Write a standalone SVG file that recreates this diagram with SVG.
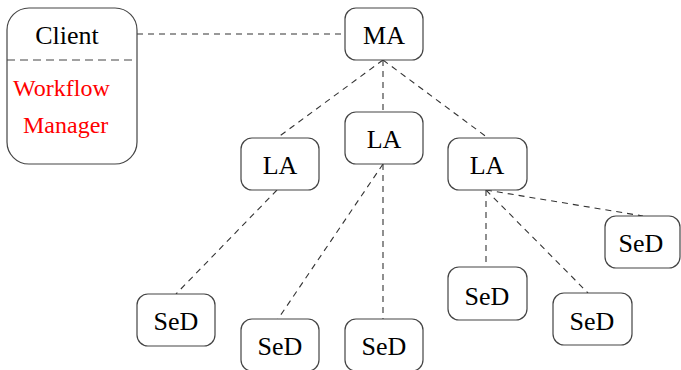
<svg xmlns="http://www.w3.org/2000/svg" width="681" height="370" viewBox="0 0 681 370">
<style>
.box{fill:#fff;stroke:#444;stroke-width:1.2}
.lbl{font-family:"Liberation Serif","Times New Roman",serif;font-size:26px;fill:#000;text-anchor:middle}
.red{font-family:"Liberation Serif","Times New Roman",serif;font-size:24px;fill:#ff0000}
.con{stroke:#333;stroke-width:1.1;stroke-dasharray:6 5;fill:none}
</style>
<rect width="681" height="370" fill="#fff"/>
<g id="connectors">
<line class="con" x1="137" y1="34" x2="345" y2="34"/>
<line class="con" x1="383" y1="60" x2="277" y2="138"/>
<line class="con" x1="383" y1="60" x2="383" y2="112"/>
<line class="con" x1="383" y1="60" x2="488" y2="138"/>
<line class="con" x1="277" y1="190" x2="176" y2="294"/>
<line class="con" x1="383" y1="164" x2="278" y2="319"/>
<line class="con" x1="383" y1="164" x2="383" y2="319"/>
<line class="con" x1="486" y1="190" x2="486" y2="267"/>
<line class="con" x1="486" y1="190" x2="588" y2="293"/>
<line class="con" x1="486" y1="190" x2="643" y2="216"/>
</g>
<g id="client">
<rect class="box" x="7" y="8" width="130" height="156" rx="22"/>
<line x1="7" y1="60" x2="137" y2="60" stroke="#444" stroke-width="1.2" stroke-dasharray="8 5"/>
<text class="lbl" x="67" y="44">Client</text>
<text class="red" x="13" y="96">Workflow</text>
<text class="red" x="23" y="133">Manager</text>
</g>
<g id="ma">
<rect class="box" x="345" y="8" width="78" height="52" rx="11"/>
<text class="lbl" x="384" y="44">MA</text>
</g>
<g id="la-left">
<rect class="box" x="241" y="138" width="78" height="52" rx="11"/>
<text class="lbl" x="280" y="174">LA</text>
</g>
<g id="la-mid">
<rect class="box" x="345" y="112" width="78" height="52" rx="11"/>
<text class="lbl" x="384" y="148">LA</text>
</g>
<g id="la-right">
<rect class="box" x="448" y="138" width="79" height="52" rx="11"/>
<text class="lbl" x="487" y="174">LA</text>
</g>
<g id="sed1">
<rect class="box" x="137" y="294" width="78" height="52" rx="11"/>
<text class="lbl" x="176" y="330">SeD</text>
</g>
<g id="sed2">
<rect class="box" x="241" y="319" width="78" height="52" rx="11"/>
<text class="lbl" x="280" y="355">SeD</text>
</g>
<g id="sed3">
<rect class="box" x="345" y="319" width="78" height="52" rx="11"/>
<text class="lbl" x="384" y="355">SeD</text>
</g>
<g id="sed4">
<rect class="box" x="448" y="267" width="79" height="53" rx="11"/>
<text class="lbl" x="487" y="305">SeD</text>
</g>
<g id="sed5">
<rect class="box" x="553" y="293" width="79" height="52" rx="11"/>
<text class="lbl" x="592" y="330">SeD</text>
</g>
<g id="sed6">
<rect class="box" x="605" y="216" width="75" height="52" rx="11"/>
<text class="lbl" x="641" y="252">SeD</text>
</g>
</svg>
